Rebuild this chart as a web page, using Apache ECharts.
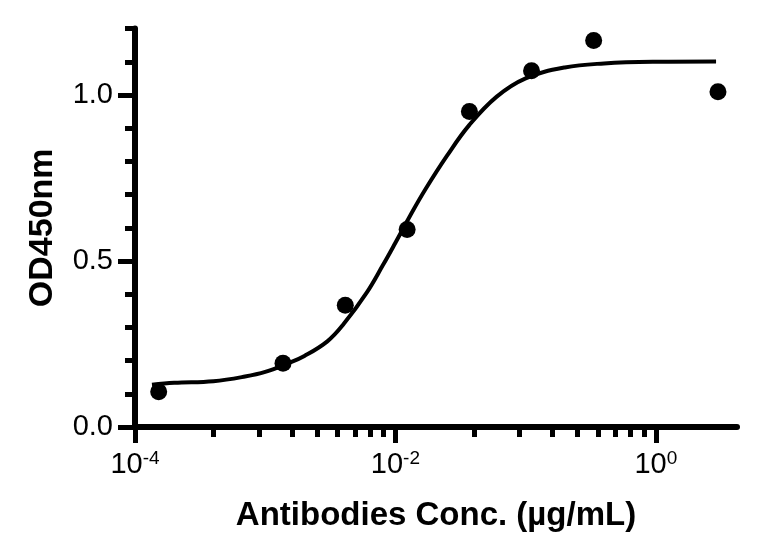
<!DOCTYPE html>
<html>
<head>
<meta charset="utf-8">
<script src="https://cdn.jsdelivr.net/npm/echarts@6/dist/echarts.min.js"></script>
<style>html,body{margin:0;padding:0;background:#fff}#c{width:760px;height:545px}</style>
</head>
<body>
<div id="c"></div>
<script>
// measured points
const concX = [0.000152, 0.00137, 0.00412, 0.0123, 0.037, 0.111, 0.333, 3];
const odY = [0.106, 0.192, 0.367, 0.595, 0.950, 1.073, 1.164, 1.010];
// fitted curve
const fitX = [1.35e-4, 2e-4, 4e-4, 7e-4, 1e-3, 1.5e-3, 2e-3, 3e-3, 4e-3, 6e-3, 8e-3, 1e-2, 1.3e-2, 1.7e-2, 2.5e-2, 3.7e-2, 6e-2, 0.1, 0.2, 0.4, 1, 2.9];
const fitY = [0.127, 0.133, 0.138, 0.152, 0.166, 0.192, 0.214, 0.258, 0.31, 0.404, 0.487, 0.555, 0.637, 0.716, 0.818, 0.91, 0.995, 1.05, 1.083, 1.095, 1.1, 1.101];
// ticks
const xMajorTicks = [1e-4, 1e-2, 1];
const xMinorTicks = [4e-4, 9e-4, 16e-4, 25e-4, 36e-4, 49e-4, 64e-4, 81e-4, 4e-2, 9e-2, 0.16, 0.25, 0.36, 0.49, 0.64, 0.81];
const yMajorTicks = [0, 0.5, 1.0];

const FONT = 'Liberation Sans, Arial, Helvetica, sans-serif';
const chart = echarts.init(document.getElementById('c'));
chart.setOption({
  animation: false,
  backgroundColor: '#fff',
  grid: {left: 135, right: 23, top: 28.6, bottom: 118, containLabel: false},
  xAxis: [{
    type: 'log', logBase: 10, min: 1e-4, max: 4.2,
    position: 'bottom',
    axisLine: {show: true, lineStyle: {color: '#000', width: 6}},
    axisTick: {show: true, length: 16, lineStyle: {color: '#000', width: 5}, customValues: xMajorTicks},
    axisLabel: {
      show: true, margin: 22, customValues: xMajorTicks,
      formatter: function (v) { return '{b|10}{s|' + Math.round(Math.log10(v)) + '}'; },
      rich: {
        b: {fontSize: 29, fontFamily: FONT, color: '#000', lineHeight: 30, verticalAlign: 'bottom'},
        s: {fontSize: 19, fontFamily: FONT, color: '#000', lineHeight: 30, verticalAlign: 'top'}
      }
    },
    splitLine: {show: false},
    minorTick: {show: false},
    name: 'Antibodies Conc. (µg/mL)',
    nameLocation: 'middle', nameGap: 72,
    nameTextStyle: {fontSize: 33, fontWeight: 'bold', fontFamily: FONT, color: '#000'}
  }, {
    type: 'log', logBase: 10, min: 1e-4, max: 4.2,
    position: 'bottom',
    axisLine: {show: false},
    axisTick: {show: true, length: 10, lineStyle: {color: '#000', width: 5}, customValues: xMinorTicks},
    axisLabel: {show: false},
    splitLine: {show: false}
  }],
  yAxis: [{
    type: 'value', min: 0, max: 1.2, interval: 0.1,
    position: 'left',
    axisLine: {show: true, lineStyle: {color: '#000', width: 6}},
    axisTick: {show: true, length: 17, lineStyle: {color: '#000', width: 5}, customValues: yMajorTicks},
    axisLabel: {
      show: true, margin: 22, customValues: yMajorTicks,
      fontSize: 29, fontFamily: FONT, color: '#000',
      formatter: function (v) { return v.toFixed(1); }
    },
    splitLine: {show: false},
    name: 'OD450nm',
    nameLocation: 'middle', nameGap: 75, nameRotate: 90,
    nameTextStyle: {fontSize: 34, fontWeight: 'bold', fontFamily: FONT, color: '#000'}
  }, {
    type: 'value', min: 0, max: 1.2, interval: 0.1,
    position: 'left',
    axisLine: {show: false},
    axisTick: {show: true, length: 10, lineStyle: {color: '#000', width: 5}},
    axisLabel: {show: false},
    splitLine: {show: false}
  }],
  series: [{
    type: 'line',
    xAxisIndex: 0, yAxisIndex: 0,
    data: fitX.map((x, i) => [x, fitY[i]]),
    smooth: 0.4,
    showSymbol: false,
    symbol: 'none',
    lineStyle: {color: '#000', width: 4},
    z: 2
  }, {
    type: 'scatter',
    xAxisIndex: 0, yAxisIndex: 0,
    data: concX.map((x, i) => [x, odY[i]]),
    symbol: 'circle',
    symbolSize: 17,
    itemStyle: {color: '#000', opacity: 1},
    z: 3
  }]
});
</script>
</body>
</html>
